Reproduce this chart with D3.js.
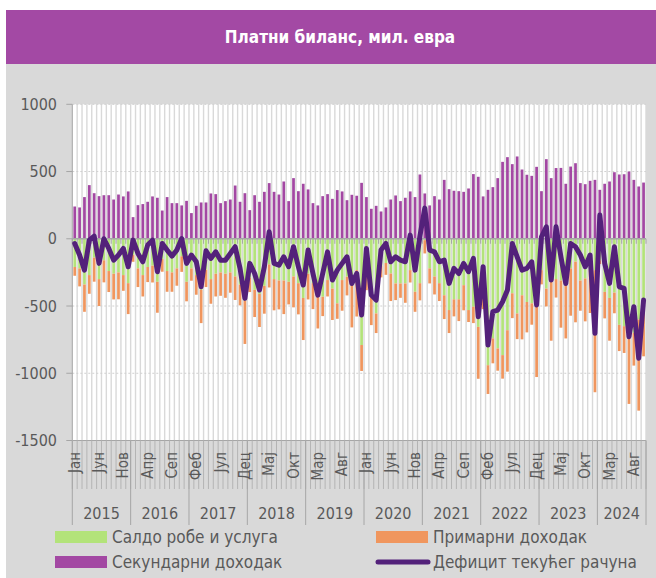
<!doctype html>
<html>
  <head>
    <meta charset="utf-8">
    <script src="https://cdnjs.cloudflare.com/ajax/libs/d3/7.8.5/d3.min.js"></script>
    <style>
      body { margin: 0; background: #fff; }
      text { font-family: "Liberation Sans Narrow", "DejaVu Sans Condensed", "Roboto", sans-serif; fill: #595959; }
      text.title { fill: #fff; font-weight: bold; font-size: 17px; }
      line.vgrid { stroke: #d9d9d9; stroke-width: 1.4; }
      line.hgrid { stroke: #d0d0d0; stroke-width: 1; stroke-dasharray: 2 2; }
      line.axis { stroke: #a6a6a6; stroke-width: 1; }
      path.ca { fill: none; stroke: #53217a; stroke-width: 5; stroke-linejoin: round; stroke-linecap: round; }
    </style>
  </head>
  <body>
    <svg width="656" height="578"></svg>
    <script>
      var years = ["2015", "2016", "2017", "2018", "2019", "2020", "2021", "2022", "2023", "2024"];
      var monthNames = ["Јан", "Феб", "Мар", "Апр", "Мај", "Јун", "Јул", "Авг", "Сеп", "Окт", "Нов", "Дец"];
      var lastYearMonths = 10;

      // Салдо робе и услуга
      var goods = [
        -210,-220,-340,-270,-140,-300,-160,-240,-260,-250,-270,-330,
        -120,-220,-270,-210,-200,-320,-150,-240,-250,-220,-130,-320,
        -220,-270,-380,-230,-300,-260,-250,-260,-250,-280,-340,-460,
        -290,-380,-410,-350,-190,-300,-310,-310,-320,-280,-330,-440,
        -260,-330,-430,-431,-307,-370,-480,-307,-282,-344,-233,-790,
        -240,-431,-555,-200,-180,-258,-332,-332,-332,-233,-394,-330,
        -10,-220,-280,-330,-420,-530,-450,-450,-345,-530,-505,-655,
        -395,-940,-740,-815,-865,-680,-405,-555,-420,-470,-480,-505,
        -233,-370,-270,-300,-310,-295,-220,-170,-310,-295,-230,-233,
        -160,-395,-440,-400,-640,-650,-660,-700,-600,-500
      ];
      // Примарни доходак
      var primary = [
        -65,-134,-203,-139,-179,-200,-164,-156,-191,-200,-117,-230,
        -51,-139,-159,-112,-125,-230,-95,-154,-144,-129,-116,-145,
        -92,-146,-247,-129,-183,-169,-174,-179,-151,-175,-155,-322,
        -106,-202,-246,-207,-172,-232,-215,-250,-168,-230,-232,-313,
        -191,-193,-237,-144,-122,-234,-115,-228,-139,-315,-345,-193,
        -142,-211,-146,-87,-88,-205,-124,-107,-144,-92,-149,-128,
        -99,-112,-134,-133,-177,-171,-127,-162,-187,-89,-122,-386,
        -128,-214,-186,-166,-175,-308,-185,-191,-328,-226,-159,-523,
        -106,-133,-488,-137,-351,-446,-352,-451,-225,-319,-322,-908,
        -28,-197,-318,-154,-195,-199,-568,-243,-678,-374
      ];
      // Секундарни доходак
      var secondary = [
        240,233,310,399,339,317,324,324,292,329,315,352,
        161,250,258,275,315,305,210,310,265,265,248,282,
        191,245,270,270,337,332,265,280,292,396,275,339,
        213,324,275,349,414,349,329,426,280,451,354,409,
        367,265,248,317,332,297,362,352,287,327,320,416,
        310,223,245,203,233,292,322,280,305,352,310,478,
        337,248,317,292,438,369,357,354,349,374,481,461,
        315,364,384,451,572,607,555,612,515,476,468,535,
        354,592,451,526,527,409,537,562,414,406,431,438,
        364,409,426,495,478,480,500,438,389,418
      ];
      // Дефицит текућег рачуна
      var currentAccount = [
        -35,-121,-233,-10,20,-183,0,-72,-159,-121,-72,-208,
        -10,-109,-171,-47,-10,-245,-35,-84,-129,-84,2,-183,
        -121,-171,-357,-89,-146,-97,-159,-159,-109,-59,-220,-443,
        -183,-258,-381,-208,52,-183,-196,-134,-208,-59,-208,-344,
        -84,-258,-419,-258,-97,-307,-233,-183,-134,-332,-258,-567,
        -72,-419,-456,-84,-35,-171,-134,-159,-171,27,-233,20,
        228,-84,-97,-171,-159,-332,-220,-258,-183,-245,-146,-580,
        -208,-790,-542,-530,-468,-381,-35,-134,-233,-220,-171,-493,
        15,89,-307,89,-134,-332,-35,-59,-121,-208,-121,-703,
        176,-183,-332,-59,-357,-369,-728,-505,-889,-456
      ];
      var yTicks = [1000, 500, 0, -500, -1000, -1500];

      var seriesKeys = ["goods", "primary", "secondary"];
      var seriesColors = { goods: "#b3e37a", primary: "#f0965e", secondary: "#a348a3" };
      var legendItems = [
        { label: "Салдо робе и услуга", key: "goods" },
        { label: "Примарни доходак", key: "primary" },
        { label: "Секундарни доходак", key: "secondary" },
        { label: "Дефицит текућег рачуна", key: "line" }
      ];

      // build monthly rows
      var rows = [];
      years.forEach(function(yr, yi) {
        var n = yi == years.length - 1 ? lastYearMonths : 12;
        for (var m = 0; m < n; m++) {
          var i = rows.length;
          rows.push({
            id: yr + "-" + m, year: yr, month: monthNames[m], idx: i,
            goods: goods[i], primary: primary[i], secondary: secondary[i], ca: currentAccount[i]
          });
        }
      });

      var svg = d3.select("svg");
      var pL = 72.3, pR = 646, pT = 104.3, pB = 440.5;

      // title band + grey panel
      svg.append("rect").attr("x", 6).attr("y", 64).attr("width", 650).attr("height", 514).attr("fill", "#d9d9d9");
      svg.append("rect").attr("x", 6).attr("y", 10).attr("width", 650).attr("height", 54).attr("fill", "#a349a4");
      svg.append("text").attr("class", "title").attr("x", 340).attr("y", 43)
        .attr("text-anchor", "middle").text("Платни биланс, мил. евра");

      var x = d3.scaleBand().domain(rows.map(d => d.id)).range([pL, pR]).paddingInner(0.44).paddingOuter(0.22);
      var y = d3.scaleLinear().domain([-1500, 1000]).range([pB, pT]);
      var step = x.step();

      svg.append("rect").attr("x", pL).attr("y", pT).attr("width", pR - pL).attr("height", pB - pT).attr("fill", "#fff");

      // vertical category gridlines
      svg.append("g").selectAll("line").data(d3.range(1, rows.length + 1))
        .enter().append("line").attr("class", "vgrid")
          .attr("x1", i => pL + i * step).attr("x2", i => pL + i * step)
          .attr("y1", pT).attr("y2", pB);

      svg.append("g").selectAll("line").data(yTicks.filter(v => v != 0 && v != -1500))
        .enter().append("line").attr("class", "hgrid")
          .attr("x1", pL).attr("x2", pR).attr("y1", d => y(d)).attr("y2", d => y(d));

      // stacked bars
      var stack = d3.stack().keys(seriesKeys).offset(d3.stackOffsetDiverging);
      var layers = stack(rows);
      svg.append("g").selectAll("g").data(layers)
        .enter().append("g").attr("fill", d => seriesColors[d.key])
        .selectAll("rect").data(d => d)
        .enter().append("rect")
          .attr("x", d => x(d.data.id))
          .attr("width", x.bandwidth())
          .attr("y", d => y(Math.max(d[0], d[1])))
          .attr("height", d => Math.abs(y(d[0]) - y(d[1])));

      // zero axis with ticks
      svg.append("line").attr("class", "axis").attr("x1", pL).attr("x2", pR).attr("y1", y(0)).attr("y2", y(0)).style("stroke-width", 1.5);
      svg.append("g").selectAll("line").data(d3.range(0, rows.length + 1))
        .enter().append("line").attr("class", "axis")
          .attr("x1", i => pL + i * step).attr("x2", i => pL + i * step)
          .attr("y1", y(0)).attr("y2", y(0) + 5);

      // left axis
      svg.append("line").attr("class", "axis").attr("x1", pL).attr("x2", pL).attr("y1", pT).attr("y2", pB);
      svg.append("line").attr("class", "axis").attr("x1", pL).attr("x2", pR).attr("y1", pB).attr("y2", pB);
      var ya = svg.append("g").selectAll("g").data(yTicks).enter().append("g");
      ya.append("line").attr("class", "axis").attr("x1", pL - 6).attr("x2", pL).attr("y1", d => y(d)).attr("y2", d => y(d));
      ya.append("text").attr("x", 57).attr("y", d => y(d) + 5.5).attr("text-anchor", "end")
        .style("font-size", "16px").text(d => d);

      // current account line
      var line = d3.line().x(d => x(d.id) + x.bandwidth() / 2).y(d => y(d.ca));
      svg.append("path").datum(rows).attr("class", "ca").attr("d", line);

      // category axis (multi-level)
      svg.append("g").selectAll("line").data(d3.range(0, rows.length + 1))
        .enter().append("line").attr("class", "axis").style("stroke", "#b4b4b4")
          .attr("x1", i => pL + i * step).attr("x2", i => pL + i * step)
          .attr("y1", pB).attr("y2", 489);
      var yearStart = [];
      rows.forEach(function(d) { if (d.month == monthNames[0]) yearStart.push(d.idx); });
      yearStart.push(rows.length);
      svg.append("g").selectAll("line").data(yearStart)
        .enter().append("line").attr("class", "axis")
          .attr("x1", i => pL + i * step).attr("x2", i => pL + i * step)
          .attr("y1", pB).attr("y2", 525);
      svg.append("g").selectAll("text").data(years)
        .enter().append("text")
          .attr("x", (d, i) => pL + (yearStart[i] + yearStart[i + 1]) / 2 * step)
          .attr("y", 519).attr("text-anchor", "middle").style("font-size", "16px").text(d => d);
      svg.append("g").selectAll("text").data(rows.filter(d => d.idx % 5 == 0))
        .enter().append("text")
          .attr("transform", d => "translate(" + (x(d.id) + x.bandwidth() / 2 + 5) + ",452) rotate(-90)")
          .attr("text-anchor", "end").style("font-size", "15px").text(d => d.month);

      // legend
      var lg = svg.append("g").selectAll("g").data(legendItems).enter().append("g")
        .attr("transform", (d, i) => "translate(" + (i % 2 ? 376 : 55) + "," + (i < 2 ? 537 : 562) + ")");
      lg.filter(d => d.key != "line").append("rect")
        .attr("x", 0).attr("y", -6).attr("width", 52).attr("height", 12).attr("fill", d => seriesColors[d.key]);
      lg.filter(d => d.key == "line").append("line")
        .attr("x1", 2).attr("x2", 52).attr("y1", 0).attr("y2", 0)
        .attr("stroke", "#53217a").attr("stroke-width", 5).attr("stroke-linecap", "round");
      lg.append("text").attr("x", 57).attr("y", 6).style("font-size", "17px").text(d => d.label);
    </script>
  </body>
</html>
